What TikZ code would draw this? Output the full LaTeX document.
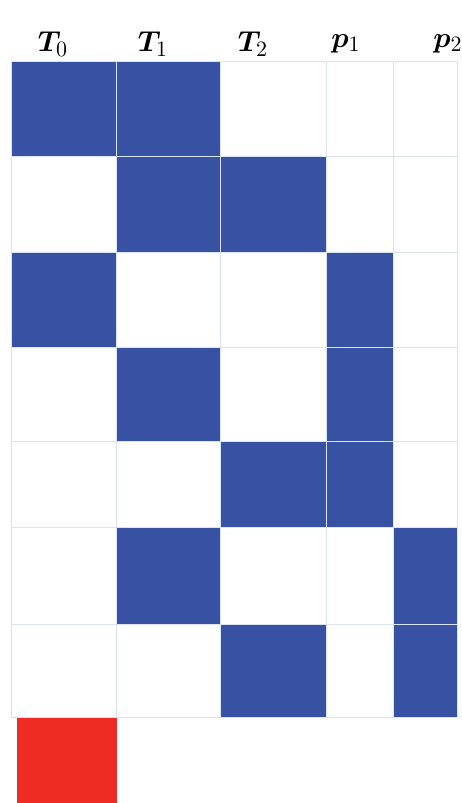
\documentclass[tikz,border=0pt]{standalone}
\usepackage{amsmath,amssymb,bm}
\usepackage{xcolor}
\usetikzlibrary{positioning}
\definecolor{cellblue}{RGB}{55,82,163}
\definecolor{cellred}{RGB}{238,44,36}
\definecolor{gridline}{RGB}{218,228,240}
\tikzset{
  onecell/.style={fill=cellblue,draw=none},
  gridrule/.style={draw=gridline,line width=0.5pt},
  headlab/.style={font=\fontsize{15}{17}\selectfont,inner sep=0pt}
}
\begin{document}
\begin{tikzpicture}[x=0.5pt,y=-0.5pt]
\useasboundingbox (0,0) rectangle (461,803);
\def\colx{{11,116,220,326,393,457}}
\def\rowy{{61,156,252,347,441,527,624,717}}
% column heads
\foreach \xx/\sym/\sub/\nm in {53/T/0/hT0,153/T/1/hT1,253/T/2/hT2,346/p/1/hp1,448/p/2/hp2}{
  \node[headlab] (\nm) at (\xx,44){$\boldsymbol{\sym}_{\sub}$};
}
% filled cells, column/row
\foreach \c/\r in {0/0,1/0,1/1,2/1,0/2,3/2,1/3,3/3,2/4,3/4,1/5,4/5,2/6,4/6}{
  \pgfmathsetmacro{\xa}{\colx[\c]}\pgfmathsetmacro{\xb}{\colx[\c+1]}
  \pgfmathsetmacro{\ya}{\rowy[\r]}\pgfmathsetmacro{\yb}{\rowy[\r+1]}
  \fill[onecell] (\xa,\ya) rectangle (\xb,\yb);
}
% grid
\foreach \c in {0,...,5}{
  \pgfmathsetmacro{\xa}{\colx[\c]}
  \draw[gridrule] (\xa,61) -- (\xa,717);
}
\foreach \r in {0,...,7}{
  \pgfmathsetmacro{\ya}{\rowy[\r]}
  \draw[gridrule] (11,\ya) -- (457,\ya);
}
% extra red cell
\fill[cellred] (17,718) rectangle (117,803);
\end{tikzpicture}
\end{document}
